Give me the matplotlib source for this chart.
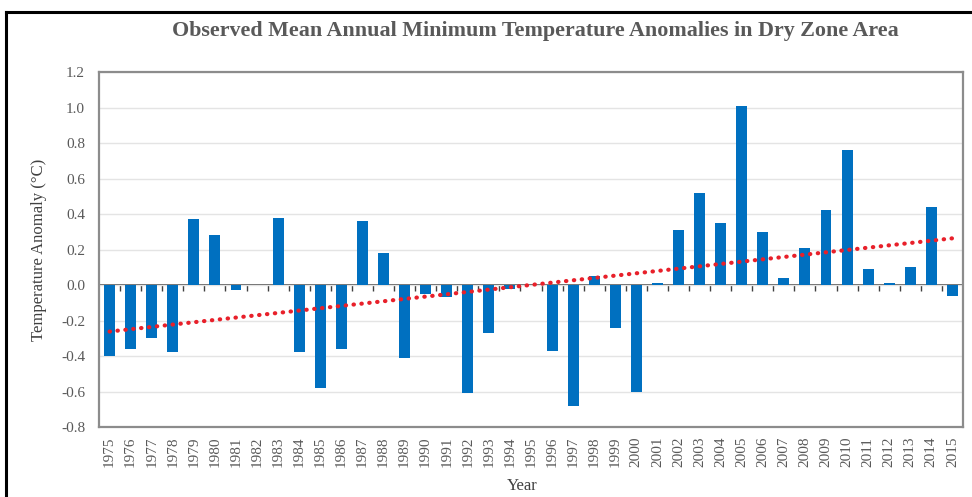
import numpy as np
import matplotlib
matplotlib.use("Agg")
import matplotlib.pyplot as plt
from matplotlib.lines import Line2D

plt.rcParams['font.family'] = ['Liberation Serif', 'DejaVu Serif']

years = list(range(1975, 2016))
anomaly = [-0.40, -0.36, -0.30, -0.38, 0.37, 0.28, -0.03, 0.00, 0.38, -0.38,
           -0.58, -0.36, 0.36, 0.18, -0.41, -0.05, -0.07, -0.61, -0.27, -0.02,
           0.00, -0.37, -0.68, 0.05, -0.24, -0.60, 0.01, 0.31, 0.52, 0.35,
           1.01, 0.30, 0.04, 0.21, 0.42, 0.76, 0.09, 0.01, 0.10, 0.44,
           -0.06]
y_ticks = [-0.8, -0.6, -0.4, -0.2, 0.0, 0.2, 0.4, 0.6, 0.8, 1.0, 1.2]

x = np.arange(len(years))
ymin, ymax = -0.8, 1.2

fig = plt.figure(figsize=(9.72, 4.97), dpi=100)
ax = fig.add_axes([0.1019, 0.1408, 0.8888, 0.7143])

ax.bar(x, anomaly, width=0.52, color='#0070C0', zorder=3)

# linear trend line
slope, icpt = np.polyfit(x, anomaly, 1)
ax.plot(x, slope * x + icpt, color='#E8202A', linestyle=(0, (0.1, 1.8)),
        linewidth=3.0, dash_capstyle='round', zorder=4)

ax.set_xlim(-0.5, len(years) - 0.5)
ax.set_ylim(ymin, ymax)
ax.set_yticks(y_ticks)
ax.set_yticklabels([f"{v:.1f}" for v in y_ticks])
ax.set_xticks(x)
ax.set_xticklabels([str(y) for y in years], rotation=90)
ax.tick_params(axis='x', length=0, pad=7, labelsize=11, labelcolor='#595959')
ax.tick_params(axis='y', length=0, pad=10, labelsize=11, labelcolor='#595959')
ax.grid(axis='y', color='#e4e4e4', linewidth=1.0, zorder=0)

for sp in ax.spines.values():
    sp.set_color('#8c8c8c')
    sp.set_linewidth(1.6)

# category axis crossing at zero with ticks between years
zero_frac = (0 - ymin) / (ymax - ymin)
sec = ax.secondary_xaxis(zero_frac)
sec.set_xticks(x[:-1] + 0.5)
sec.set_xticklabels([])
sec.tick_params(axis='x', direction='out', length=4, width=1.0, color='#404040')
sec.spines['bottom'].set_color('#404040')
sec.spines['bottom'].set_linewidth(1.2)
sec.spines['top'].set_visible(False)

ax.set_ylabel('Temperature Anomaly (°C)', fontsize=12, color='#404040', labelpad=10)
ax.set_xlabel('Year', fontsize=12, color='#404040')
ax.xaxis.set_label_coords(0.49, -0.145)

fig.text(0.551, 0.938, 'Observed Mean Annual Minimum Temperature Anomalies in Dry Zone Area',
         ha='center', va='center', fontsize=15.8, fontweight='bold', color='#595959')

# outer frame (left and top edges)
fig.add_artist(Line2D([0.006, 0.006], [0.0, 0.976], transform=fig.transFigure,
                      color='black', linewidth=2.2))
fig.add_artist(Line2D([0.006, 1.0], [0.976, 0.976], transform=fig.transFigure,
                      color='black', linewidth=2.2))

fig.savefig('out.png', dpi=100)
